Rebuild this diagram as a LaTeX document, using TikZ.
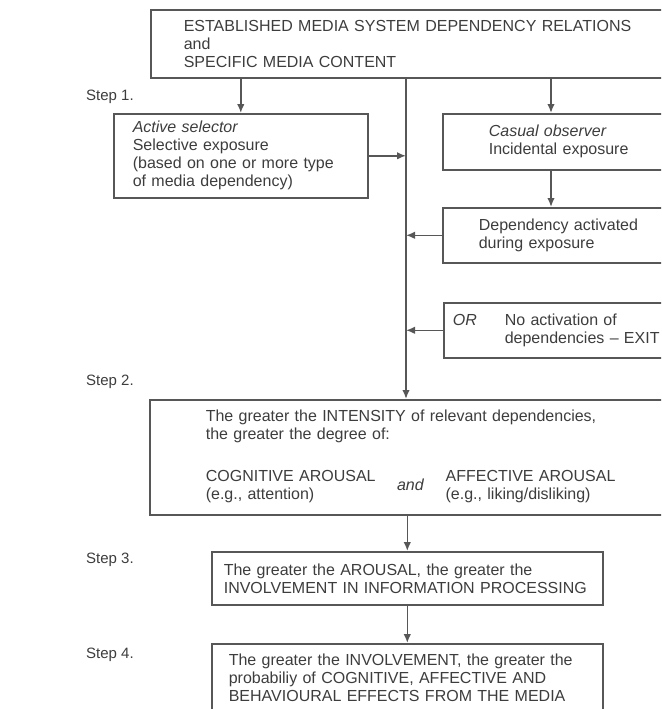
\documentclass[tikz,border=0pt]{standalone}
\usepackage{fontspec}
\setmainfont{Liberation Sans}
\usetikzlibrary{calc,arrows.meta}

\definecolor{ink}{gray}{0.24}
\definecolor{rulegray}{gray}{0.34}

\begin{document}
\begin{tikzpicture}[x=1pt,y=-1pt,
    font=\fontsize{16}{18}\selectfont, text=ink,
    box/.style={draw=rulegray, line width=1.6pt, rectangle, anchor=north west, align=left},
    link/.style={draw=rulegray, line width=1.6pt, -{Latex[length=9pt,width=7.5pt]}},
    steplabel/.style={anchor=west, inner sep=0pt, font=\fontsize{15}{17}\selectfont}]
    \useasboundingbox (0,0) rectangle (661,709);
    \clip (0,0) rectangle (661,709);
    % boxes
    \node[box, minimum width=550, minimum height=68, inner xsep=33, text width=484] (src) at (150,9)
        {ESTABLISHED MEDIA SYSTEM DEPENDENCY RELATIONS\\and\\SPECIFIC MEDIA CONTENT};
    \node[box, minimum width=254, minimum height=84, inner xsep=19, text width=216] (active) at (113,113)
        {\textit{Active selector}\\Selective exposure\\(based on one or more type\\of media dependency)};
    \node[box, minimum width=258, minimum height=56, inner xsep=46, text width=166] (casual) at (442,113)
        {\textit{Casual observer}\\Incidental exposure};
    \node[box, minimum width=258, minimum height=55, inner xsep=36, text width=186] (activated) at (442,207)
        {Dependency activated\\during exposure};
    \node[box, minimum width=257, minimum height=55, inner xsep=9, text width=239] (exit) at (443,302)
        {\makebox[52pt][l]{\textit{OR}}No activation of\\\hspace*{52pt}dependencies -- EXIT};
    \node[box, minimum width=551, minimum height=115, inner xsep=56, text width=439] (step2) at (149,399)
        {\begin{tabular}{@{}l@{}c@{}l@{}}
            \multicolumn{3}{@{}l@{}}{The greater the INTENSITY of relevant dependencies,}\\
            \multicolumn{3}{@{}l@{}}{the greater the degree of:}\\[24pt]
            COGNITIVE AROUSAL & \makebox[70pt]{\raisebox{-9pt}[0pt][0pt]{\textit{and}}} & AFFECTIVE AROUSAL\\
            (e.g., attention) & & (e.g., liking/disliking)
        \end{tabular}};
    \node[box, minimum width=391, minimum height=53, inner xsep=12, text width=367] (step3) at (211,551)
        {The greater the AROUSAL, the greater the\\INVOLVEMENT IN INFORMATION PROCESSING};
    \node[box, minimum width=391, minimum height=68, inner xsep=17, text width=357] (step4) at (211,643)
        {The greater the INVOLVEMENT, the greater the\\probabiliy of COGNITIVE, AFFECTIVE AND\\BEHAVIOURAL EFFECTS FROM THE MEDIA};
    % step labels
    \node[steplabel] (s1) at (86,97) {Step 1.};
    \node[steplabel] (s2) at (86,382) {Step 2.};
    \node[steplabel] (s3) at (86,560) {Step 3.};
    \node[steplabel] (s4) at (86,655) {Step 4.};
    % connectors
    \coordinate (spine) at (406,0);
    \coordinate (branch) at (551,0);
    \draw[link] (src.south -| spine) -- (step2.north -| spine);
    \draw[link] (src.south -| active.north) -- (active.north);
    \draw[link] (src.south -| branch) -- (casual.north -| branch);
    \draw[link] (casual.south -| branch) -- (activated.north -| branch);
    \draw[link] (active.east) -- (active.east -| spine);
    \draw[link] (activated.west) -- (activated.west -| spine);
    \draw[link] (exit.west) -- (exit.west -| spine);
    \draw[link] (step2.south -| step3.north) -- (step3.north);
    \draw[link] (step3.south) -- (step4.north);
\end{tikzpicture}
\end{document}
